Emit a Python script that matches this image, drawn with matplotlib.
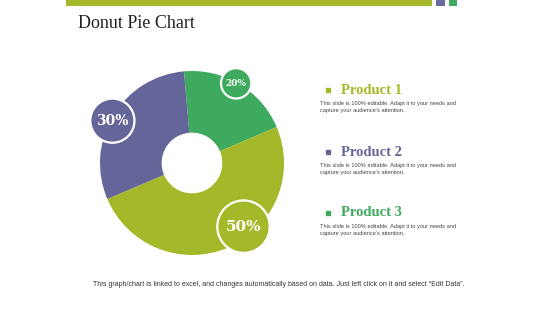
import numpy as np
import matplotlib
matplotlib.use("Agg")
import matplotlib.pyplot as plt
import matplotlib.patches as mpatches

# data
products = ["Product 3", "Product 1", "Product 2"]  # clockwise order from top
shares = [20, 50, 30]
slice_colors = ["#3DAA5E", "#A5B82A", "#64669A"]
badge_labels = ["20%", "50%", "30%"]

legend_names = ["Product 1", "Product 2", "Product 3"]
legend_colors = ["#A5B82A", "#64669A", "#3DAA5E"]
desc = "This slide is 100% editable. Adapt it to your needs and\ncapture your audience\u2019s attention."
footer = ("This graph/chart is linked to excel, and changes automatically based on data. "
          "Just left click on it and select \u201cEdit Data\u201d.")

W, H = 560, 315
fig = plt.figure(figsize=(W / 100, H / 100), dpi=100)

# overlay in pixel coordinates for slide decorations / text
ov = fig.add_axes([0, 0, 1, 1])
ov.set_xlim(0, W)
ov.set_ylim(H, 0)
ov.axis("off")

ov.add_patch(mpatches.Rectangle((66, 0), 366, 6, color="#A5B82A", lw=0))
ov.add_patch(mpatches.Rectangle((436, 0), 9, 6, color="#676A9E", lw=0))
ov.add_patch(mpatches.Rectangle((449, 0), 8, 6, color="#3BAA5F", lw=0))

ov.text(78, 23, "Donut Pie Chart", family="Liberation Serif", fontsize=13,
        color="#222222", va="center", ha="left")

legend_y = [90, 152, 213]
for name, col, y in zip(legend_names, legend_colors, legend_y):
    ov.plot(328, y, marker="s", ms=2.8, color=col, mec=col)
    ov.text(341, y, name, family="Liberation Serif", fontweight="bold",
            fontsize=10.5, color=col, va="center", ha="left")
    ov.text(320, y + 11, desc, family="Liberation Sans", fontsize=4.1,
            color="#444444", va="top", ha="left", linespacing=1.4)

ov.text(279, 285, footer, family="Liberation Sans", fontsize=5.0,
        color="#333333", va="center", ha="center")

# donut
cx, cy, R = 192, 163, 92
ax = fig.add_axes([(cx - R) / W, (H - cy - R) / H, 2 * R / W, 2 * R / H])
wedges, _ = ax.pie(shares, colors=slice_colors, startangle=95, counterclock=False,
                   radius=1.0, wedgeprops=dict(width=0.67, linewidth=0))
ax.set_xlim(-1, 1)
ax.set_ylim(-1, 1)
ax.set_aspect("equal")
ax.axis("off")

# badges placed along each wedge
angle_shift = [2, 16, 3]
badge_dist = [0.99, 0.89, 0.98]
badge_r = [0.165, 0.285, 0.24]
badge_fs = [6.5, 11, 10]
for w, lab, col, sh, d, r, fs in zip(wedges, badge_labels, slice_colors,
                                     angle_shift, badge_dist, badge_r, badge_fs):
    mid = np.deg2rad((w.theta1 + w.theta2) / 2 + sh)
    bx, by = d * np.cos(mid), d * np.sin(mid)
    ax.add_patch(mpatches.Circle((bx, by), r, facecolor=col, edgecolor="white",
                                 lw=1.6, clip_on=False, zorder=5))
    ax.text(bx, by, lab, ha="center", va="center", color="white", fontsize=fs,
            family="DejaVu Serif", fontweight="bold", zorder=6)

fig.savefig("out.png", dpi=100)
